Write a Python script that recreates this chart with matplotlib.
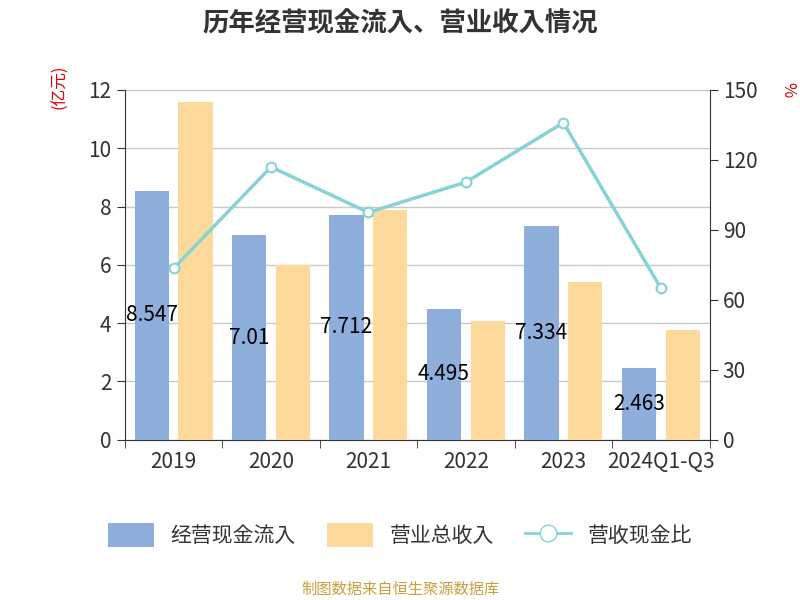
import matplotlib
matplotlib.use("Agg")
import matplotlib.pyplot as plt
from matplotlib import font_manager as fm
import numpy as np
from matplotlib.lines import Line2D
from matplotlib.patches import Patch

cjk = [f.name for f in fm.fontManager.ttflist if "CJK" in f.name]
pref = [n for n in cjk if "SC" in n] or cjk
plt.rcParams['font.family'] = [pref[0] if pref else 'Noto Sans CJK SC', 'DejaVu Sans']

categories = ["2019", "2020", "2021", "2022", "2023", "2024Q1-Q3"]
cash_in = [8.547, 7.01, 7.712, 4.495, 7.334, 2.463]
revenue = [11.6, 6.0, 7.9, 4.07, 5.4, 3.78]
ratio = [73.5, 117, 97.5, 110.5, 136, 65]

blue = "#8eaedb"
orange = "#fdd99b"
teal = "#86d3d6"

fig = plt.figure(figsize=(8, 6), dpi=100)
ax = fig.add_axes([0.156, 0.267, 0.731, 0.583])
x = np.arange(len(categories))
w = 0.35
ax.bar(x - 0.225, cash_in, w, color=blue, zorder=3)
ax.bar(x + 0.225, revenue, w, color=orange, zorder=3)
for xi, v in zip(x, cash_in):
    ax.text(xi - 0.225, v / 2, f"{v:g}", ha="center", va="center", fontsize=15, color="black", zorder=5)
ax.set_xlim(-0.5, len(categories) - 0.5)
ax.set_ylim(0, 12)
ax.set_yticks(range(0, 13, 2))
ax.grid(axis="y", color="#c8c8c8", lw=1, zorder=0)
ax.set_xticks(x)
ax.set_xticklabels(categories, fontsize=15, color="#333333")
ax.set_xticks(np.arange(-0.5, len(categories), 1), minor=True)
ax.tick_params(axis="x", which="major", length=0, pad=8)
ax.tick_params(axis="x", which="minor", length=6, color="#333333")
ax.tick_params(axis="y", labelsize=15, colors="#333333", length=6)
ax.spines["top"].set_visible(False)
ax.spines["right"].set_visible(False)
ax.spines["left"].set_color("#333333")
ax.spines["bottom"].set_color("#333333")

ax2 = ax.twinx()
ax2.plot(x, ratio, color=teal, lw=2.5, marker="o", ms=7, mfc="white", mec=teal, mew=1.5, zorder=6)
ax2.set_ylim(0, 150)
ax2.set_yticks(range(0, 151, 30))
ax2.tick_params(axis="y", labelsize=15, colors="#333333", length=6)
ax2.spines["top"].set_visible(False)
ax2.spines["left"].set_visible(False)
ax2.spines["bottom"].set_visible(False)
ax2.spines["right"].set_color("#333333")

fig.text(0.5, 0.96, "历年经营现金流入、营业收入情况", ha="center", va="center", fontsize=19, fontweight="bold", color="#333333")
fig.text(0.075, 0.855, "(亿元)", rotation=90, ha="center", va="center", fontsize=12, color="#dd0000")
fig.text(0.985, 0.85, "%", rotation=-90, ha="center", va="center", fontsize=12, color="#dd0000")

handles = [Patch(facecolor=blue, label="经营现金流入"),
           Patch(facecolor=orange, label="营业总收入"),
           Line2D([0], [0], color=teal, lw=2, marker="o", ms=12, mfc="white", mec=teal, label="营收现金比")]
fig.legend(handles=handles, loc="center", bbox_to_anchor=(0.5, 0.108), ncol=3, frameon=False,
           fontsize=15, handlelength=2.2, handleheight=1.4, columnspacing=1.5, labelcolor="#333333")
fig.text(0.5, 0.017, "制图数据来自恒生聚源数据库", ha="center", va="center", fontsize=11, color="#c8a040")

fig.savefig("out.png", dpi=100)
